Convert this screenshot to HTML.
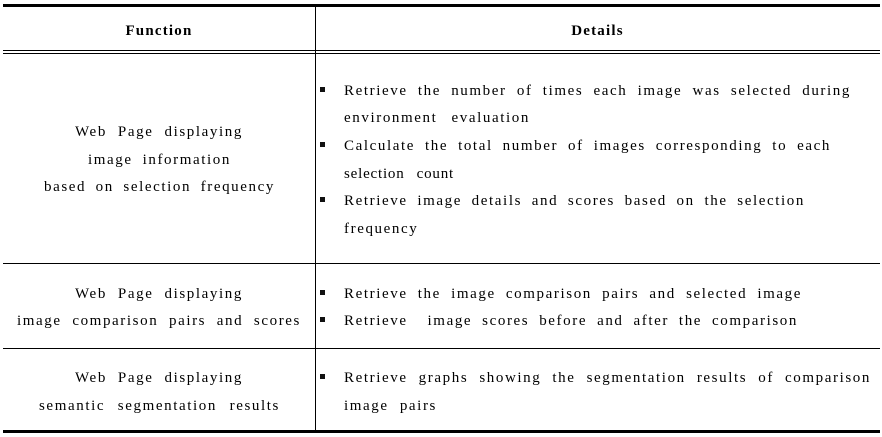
<!DOCTYPE html>
<html><head><meta charset="utf-8"><style>
body{margin:0;background:#fff;width:882px;height:437px;position:relative;overflow:hidden;font-family:"Liberation Serif",serif;font-size:15px;color:#000}
.h{position:absolute;background:#000}
.t{position:absolute;line-height:18px;height:18px;white-space:nowrap;letter-spacing:1.6px}
.j{text-align:justify;text-align-last:justify;white-space:normal;overflow:hidden}
.b{position:absolute;width:5px;height:5px;background:#111;left:320px}
</style></head><body>
<div class="h" style="left:3px;top:4px;width:877px;height:3px"></div>
<div class="h" style="left:3px;top:50px;width:877px;height:1px"></div>
<div class="h" style="left:3px;top:53px;width:877px;height:1px"></div>
<div class="h" style="left:3px;top:263px;width:877px;height:1px"></div>
<div class="h" style="left:3px;top:348px;width:877px;height:1px"></div>
<div class="h" style="left:3px;top:430px;width:877px;height:3px"></div>
<div class="h" style="left:315px;top:4px;width:1px;height:428px"></div>

<div class="t" style="left:110px;top:22px;width:98px;text-align:center;font-weight:bold;letter-spacing:1.2px">Function</div>
<div class="t" style="left:550px;top:22px;width:95px;text-align:center;font-weight:bold;letter-spacing:1.2px">Details</div>

<div class="t j" style="left:75px;top:123px;width:168px">Web Page displaying</div>
<div class="t j" style="left:88px;top:151px;width:143px">image information</div>
<div class="t j" style="left:44px;top:178px;width:231px">based on selection frequency</div>
<div class="t j" style="left:75px;top:285px;width:168px">Web Page displaying</div>
<div class="t j" style="left:17px;top:312px;width:284px">image comparison pairs and scores</div>
<div class="t j" style="left:75px;top:369px;width:168px">Web Page displaying</div>
<div class="t j" style="left:39px;top:397px;width:241px">semantic segmentation results</div>

<div class="b" style="top:87px"></div>
<div class="b" style="top:142px"></div>
<div class="b" style="top:197px"></div>
<div class="b" style="top:290px"></div>
<div class="b" style="top:317px"></div>
<div class="b" style="top:374px"></div>

<div class="t j" style="left:344px;top:82px;width:507px">Retrieve the number of times each image was selected during</div>
<div class="t j" style="left:344px;top:109px;width:186px">environment evaluation</div>
<div class="t j" style="left:344px;top:137px;width:487px">Calculate the total number of images corresponding to each</div>
<div class="t j" style="left:344px;top:165px;width:110px;letter-spacing:0.8px">selection count</div>
<div class="t j" style="left:344px;top:192px;width:461px">Retrieve image details and scores based on the selection</div>
<div class="t" style="left:344px;top:220px;width:76px;letter-spacing:1.6px">frequency</div>
<div class="t j" style="left:344px;top:285px;width:458px">Retrieve the image comparison pairs and selected image</div>
<div class="t j" style="left:344px;top:312px;width:454px">Retrieve &nbsp;image scores before and after the comparison</div>
<div class="t j" style="left:344px;top:369px;width:527px">Retrieve graphs showing the segmentation results of comparison</div>
<div class="t j" style="left:344px;top:397px;width:93px">image pairs</div>
</body></html>
